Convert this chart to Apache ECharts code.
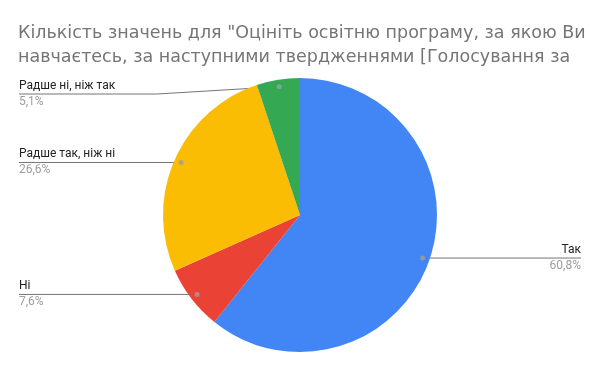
<!DOCTYPE html>
<html><head><meta charset="utf-8">
<script src="https://cdn.jsdelivr.net/npm/echarts@6/dist/echarts.min.js"></script>
<style>html,body{margin:0;padding:0;background:#fff}#c{width:600px;height:371px}</style>
</head><body><div id="c"></div>
<script>
var titleText = 'Кількість значень для "Оцініть освітню програму, за якою Ви\nнавчаєтесь, за наступними твердженнями [Голосування за';
var categories = ['Так', 'Ні', 'Радше так, ніж ні', 'Радше ні, ніж так'];
var values = [60.8, 7.6, 26.6, 5.1];
var colors = ['#4285F4', '#EA4335', '#FBBC04', '#34A853'];

var CX = 300, CY = 215, R = 137, DOT_R = 130;
var total = values.reduce(function(a, b){ return a + b; }, 0);
var mids = [];
var acc = 0;
for (var i = 0; i < values.length; i++) { mids.push(acc + values[i] / 2); acc += values[i]; }

var chart = echarts.init(document.getElementById('c'));
chart.setOption({
  animation: false,
  backgroundColor: '#fff',
  title: {
    text: titleText, left: 18, top: 21, padding: 0,
    textStyle: { fontFamily: '"DejaVu Sans", sans-serif', fontSize: 17.5, fontWeight: 'normal', color: '#757575', lineHeight: 24 }
  },
  polar: { center: [CX, CY], radius: R },
  angleAxis: { type: 'value', min: 0, max: total, startAngle: 90, clockwise: true, show: false },
  radiusAxis: { type: 'value', min: 0, max: R, show: false },
  series: [{
    type: 'pie',
    center: [CX, CY], radius: R,
    startAngle: 90, clockwise: true,
    data: categories.map(function(c, i){ return { name: c, value: values[i], itemStyle: { color: colors[i] } }; }),
    label: {
      alignTo: 'edge', edgeDistance: 19,
      formatter: function(p){ return '{n|' + p.name + '}\n{v|' + String(p.value).replace('.', ',') + '%}'; },
      rich: {
        n: { fontFamily: 'Roboto', fontSize: 12, color: '#222222', lineHeight: 16 },
        v: { fontFamily: 'Roboto', fontSize: 12, color: '#9e9e9e', lineHeight: 16 }
      }
    },
    labelLine: { show: true, length: 5, length2: 0, lineStyle: { color: '#757575', width: 1 } },
    labelLayout: function(p){
      var i = p.dataIndex;
      var a = mids[i] / total * 2 * Math.PI;
      var ax = CX + DOT_R * Math.sin(a), ay = CY - DOT_R * Math.cos(a);
      var isLeft = Math.sin(a) < 0;
      var ly = Math.max(ay, 94);
      var ex = isLeft ? 19 : 581;
      var bx = ly > ay + 1 ? ax - 122 : ax;
      return { y: ly, labelLinePoints: [[ax, ay], [bx, ly], [ex, ly]] };
    },
    emphasis: { disabled: true }
  }, {
    type: 'scatter', coordinateSystem: 'polar',
    symbolSize: 5, itemStyle: { color: '#9e9e9e' }, z: 10,
    data: mids.map(function(m){ return [DOT_R, m]; }),
    silent: true
  }]
});
</script></body></html>
